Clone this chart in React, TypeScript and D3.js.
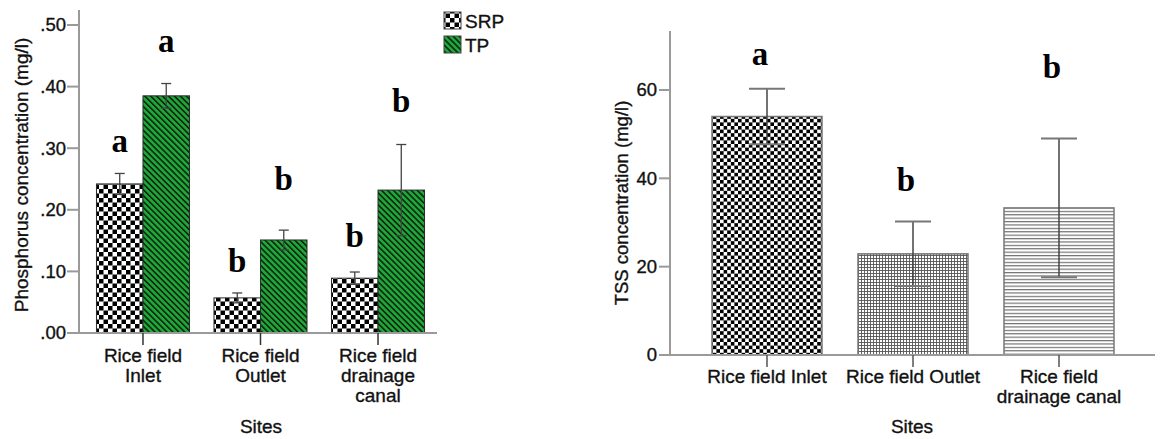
import React, { useEffect, useRef } from "react";
import * as d3 from "d3";

// left panel: phosphorus
const sites = ["Rice field Inlet", "Rice field Outlet", "Rice field drainage canal"];
const leftSiteLines = [["Rice field", "Inlet"], ["Rice field", "Outlet"], ["Rice field", "drainage", "canal"]];
const seriesNames = ["SRP", "TP"];
const srpMean = [0.242, 0.057, 0.089];
const srpErr = [0.017, 0.008, 0.010];
const tpMean = [0.385, 0.151, 0.232];
const tpErr = [0.020, 0.016, 0.074];
const srpLetters = ["a", "b", "b"];
const srpLetterAt = [0.294, 0.099, 0.14];
const tpLetters = ["a", "b", "b"];
const tpLetterAt = [0.456, 0.232, 0.359];
const leftTicks = [0, 0.1, 0.2, 0.3, 0.4, 0.5];

// right panel: TSS
const rightSiteLines = [["Rice field Inlet"], ["Rice field Outlet"], ["Rice field", "drainage canal"]];
const tssMean = [54.0, 22.9, 33.3];
const tssErr = [6.3, 7.3, 15.7];
const tssLetters = ["a", "b", "b"];
const tssLetterAt = [65.7, 37.1, 62.7];
const rightTicks = [0, 20, 40, 60];
const tssFills = ["url(#checkR)", "url(#gridR)", "url(#hlineR)"];

const sans = "'Liberation Sans', Arial, sans-serif";
const serif = "'Liberation Serif', 'Times New Roman', serif";
const axisColor = "#9a9a9a";
const ink = "#111";

const label = (sel) =>
  sel.attr("font-family", sans).attr("fill", ink).attr("stroke", ink).attr("stroke-width", 0.35);

const App = () => {
  const ref = useRef(null);

  useEffect(() => {
    const svg = d3.select(ref.current);
    svg.selectAll("*").remove();
    svg.attr("width", 1163).attr("height", 439);

    const defs = svg.append("defs");

    const ck = defs.append("pattern").attr("id", "checkL").attr("patternUnits", "userSpaceOnUse")
      .attr("width", 9).attr("height", 9);
    ck.append("rect").attr("width", 9).attr("height", 9).attr("fill", "#fff");
    ck.append("rect").attr("width", 4.5).attr("height", 4.5).attr("fill", "#000");
    ck.append("rect").attr("x", 4.5).attr("y", 4.5).attr("width", 4.5).attr("height", 4.5).attr("fill", "#000");

    const st = defs.append("pattern").attr("id", "stripeL").attr("patternUnits", "userSpaceOnUse")
      .attr("width", 4.2).attr("height", 4.2).attr("patternTransform", "rotate(-45)");
    st.append("rect").attr("width", 4.2).attr("height", 4.2).attr("fill", "#1fa83a");
    st.append("line").attr("x1", 0.8).attr("y1", 0).attr("x2", 0.8).attr("y2", 4.2)
      .attr("stroke", "#0b1a0b").attr("stroke-width", 1.5);

    const ckr = defs.append("pattern").attr("id", "checkR").attr("patternUnits", "userSpaceOnUse")
      .attr("width", 7.2).attr("height", 7.2);
    ckr.append("rect").attr("width", 7.2).attr("height", 7.2).attr("fill", "#fff");
    ckr.append("rect").attr("width", 3.6).attr("height", 3.6).attr("fill", "#000");
    ckr.append("rect").attr("x", 3.6).attr("y", 3.6).attr("width", 3.6).attr("height", 3.6).attr("fill", "#000");

    const gr = defs.append("pattern").attr("id", "gridR").attr("patternUnits", "userSpaceOnUse")
      .attr("width", 3).attr("height", 3);
    gr.append("rect").attr("width", 3).attr("height", 3).attr("fill", "#fff");
    gr.append("line").attr("x1", 0.5).attr("y1", 0).attr("x2", 0.5).attr("y2", 3).attr("stroke", "#555").attr("stroke-width", 0.9);
    gr.append("line").attr("x1", 0).attr("y1", 0.5).attr("x2", 3).attr("y2", 0.5).attr("stroke", "#555").attr("stroke-width", 0.9);

    const hl = defs.append("pattern").attr("id", "hlineR").attr("patternUnits", "userSpaceOnUse")
      .attr("width", 6).attr("height", 3.4);
    hl.append("rect").attr("width", 6).attr("height", 3.4).attr("fill", "#fff");
    hl.append("line").attr("x1", 0).attr("y1", 0.6).attr("x2", 6).attr("y2", 0.6).attr("stroke", "#666").attr("stroke-width", 1.1);

    // ---------- left panel ----------
    const yL = d3.scaleLinear().domain([0, 0.5]).range([333, 25]);
    const xL = d3.scaleBand().domain(sites).range([84.25, 436.75]).paddingInner(0.2085).paddingOuter(0.104);
    const xSub = d3.scaleBand().domain(seriesNames).range([0, xL.bandwidth()]);
    const gL = svg.append("g");
    const topL = yL.invert(10);

    gL.append("line").attr("x1", 79).attr("x2", 79).attr("y1", yL(topL)).attr("y2", yL(0))
      .attr("stroke", axisColor).attr("stroke-width", 2);
    leftTicks.forEach((t) => {
      gL.append("line").attr("x1", 67).attr("x2", 79).attr("y1", yL(t)).attr("y2", yL(t))
        .attr("stroke", axisColor).attr("stroke-width", 2);
      gL.append("text").attr("x", 66).attr("y", yL(t)).attr("dy", "0.35em").attr("text-anchor", "end")
        .attr("font-size", 18.5).call(label)
        .text(d3.format(".2f")(t).replace(/^0/, ""));
    });

    const series = [
      { name: "SRP", mean: srpMean, err: srpErr, fill: "url(#checkL)", letters: srpLetters, at: srpLetterAt },
      { name: "TP", mean: tpMean, err: tpErr, fill: "url(#stripeL)", letters: tpLetters, at: tpLetterAt },
    ];

    series.forEach((s) => {
      sites.forEach((site, i) => {
        const x0 = xL(site) + xSub(s.name);
        const w = xSub.bandwidth();
        const cx = x0 + w / 2;
        gL.append("rect").attr("x", x0).attr("y", yL(s.mean[i])).attr("width", w)
          .attr("height", yL(0) - yL(s.mean[i])).attr("fill", s.fill)
          .attr("stroke", "#2a2a2a").attr("stroke-width", 1);
        const hi = yL(s.mean[i] + s.err[i]);
        const lo = yL(s.mean[i] - s.err[i]);
        gL.append("line").attr("x1", cx).attr("x2", cx).attr("y1", hi).attr("y2", lo)
          .attr("stroke", "#444").attr("stroke-width", 1.3);
        [hi, lo].forEach((yy) => {
          gL.append("line").attr("x1", cx - 5).attr("x2", cx + 5).attr("y1", yy).attr("y2", yy)
            .attr("stroke", "#444").attr("stroke-width", 1.3);
        });
        gL.append("text").attr("x", cx).attr("y", yL(s.at[i])).attr("text-anchor", "middle")
          .attr("font-family", serif).attr("font-weight", "bold").attr("font-size", 33)
          .attr("fill", "#000").text(s.letters[i]);
      });
    });

    gL.append("line").attr("x1", 79).attr("x2", 437).attr("y1", yL(0)).attr("y2", yL(0))
      .attr("stroke", axisColor).attr("stroke-width", 2);
    sites.forEach((site, i) => {
      const cx = xL(site) + xL.bandwidth() / 2;
      gL.append("line").attr("x1", cx).attr("x2", cx).attr("y1", yL(0)).attr("y2", yL(0) + 12)
        .attr("stroke", "#333").attr("stroke-width", 1.5);
      leftSiteLines[i].forEach((ln, j) => {
        gL.append("text").attr("x", cx).attr("y", 362 + j * 20).attr("text-anchor", "middle")
          .attr("font-size", 19).call(label).text(ln);
      });
    });

    gL.append("text").attr("transform", "translate(28,175) rotate(-90)").attr("text-anchor", "middle")
      .attr("font-size", 19).call(label)
      .text("Phosphorus concentration (mg/l)");
    gL.append("text").attr("x", 261).attr("y", 433).attr("text-anchor", "middle")
      .attr("font-size", 19).call(label).text("Sites");

    // legend
    series.forEach((s, i) => {
      gL.append("rect").attr("x", 444).attr("y", 12 + i * 24).attr("width", 17).attr("height", 17)
        .attr("fill", s.fill).attr("stroke", "#444").attr("stroke-width", 1);
      gL.append("text").attr("x", 465).attr("y", 28 + i * 24)
        .attr("font-size", 19).call(label).text(s.name);
    });

    // ---------- right panel ----------
    const yR = d3.scaleLinear().domain([0, 60]).range([355, 90]);
    const xR = d3.scaleBand().domain(sites).range([694, 1132]).paddingInner(0.2466).paddingOuter(0.1233);
    const gR = svg.append("g");
    const topR = yR.invert(31);

    gR.append("line").attr("x1", 670).attr("x2", 670).attr("y1", yR(topR)).attr("y2", yR(0))
      .attr("stroke", axisColor).attr("stroke-width", 2);
    rightTicks.forEach((t) => {
      gR.append("line").attr("x1", 659).attr("x2", 670).attr("y1", yR(t)).attr("y2", yR(t))
        .attr("stroke", axisColor).attr("stroke-width", 2);
      gR.append("text").attr("x", 657).attr("y", yR(t)).attr("dy", "0.35em").attr("text-anchor", "end")
        .attr("font-size", 18.5).call(label).text(t);
    });

    sites.forEach((site, i) => {
      const x0 = xR(site);
      const w = xR.bandwidth();
      const cx = x0 + w / 2;
      gR.append("rect").attr("x", x0).attr("y", yR(tssMean[i])).attr("width", w)
        .attr("height", yR(0) - yR(tssMean[i])).attr("fill", tssFills[i])
        .attr("stroke", "#777").attr("stroke-width", 1.5);
      const hi = yR(tssMean[i] + tssErr[i]);
      const lo = yR(tssMean[i] - tssErr[i]);
      gR.append("line").attr("x1", cx).attr("x2", cx).attr("y1", hi).attr("y2", lo)
        .attr("stroke", "#444").attr("stroke-width", 1.5);
      [hi, lo].forEach((yy) => {
        gR.append("line").attr("x1", cx - 18).attr("x2", cx + 18).attr("y1", yy).attr("y2", yy)
          .attr("stroke", "#777").attr("stroke-width", 2);
      });
      gR.append("text").attr("x", cx - 7).attr("y", yR(tssLetterAt[i])).attr("text-anchor", "middle")
        .attr("font-family", serif).attr("font-weight", "bold").attr("font-size", 33)
        .attr("fill", "#000").text(tssLetters[i]);
    });

    gR.append("line").attr("x1", 670).attr("x2", 1155).attr("y1", yR(0)).attr("y2", yR(0))
      .attr("stroke", axisColor).attr("stroke-width", 2);
    sites.forEach((site, i) => {
      const cx = xR(site) + xR.bandwidth() / 2;
      gR.append("line").attr("x1", cx).attr("x2", cx).attr("y1", yR(0)).attr("y2", yR(0) + 12)
        .attr("stroke", "#555").attr("stroke-width", 1.5);
      rightSiteLines[i].forEach((ln, j) => {
        gR.append("text").attr("x", cx).attr("y", 383 + j * 20).attr("text-anchor", "middle")
          .attr("font-size", 19).call(label).text(ln);
      });
    });

    gR.append("text").attr("transform", "translate(628,203) rotate(-90)").attr("text-anchor", "middle")
      .attr("font-size", 18.5).call(label)
      .text("TSS concentration (mg/l)");
    gR.append("text").attr("x", 912).attr("y", 433).attr("text-anchor", "middle")
      .attr("font-size", 19).call(label).text("Sites");
  }, []);

  return (
    <div style={{ position: "absolute", left: 0, top: 0, background: "#fff" }}>
      <svg ref={ref} style={{ display: "block" }}></svg>
    </div>
  );
};

export default App;
